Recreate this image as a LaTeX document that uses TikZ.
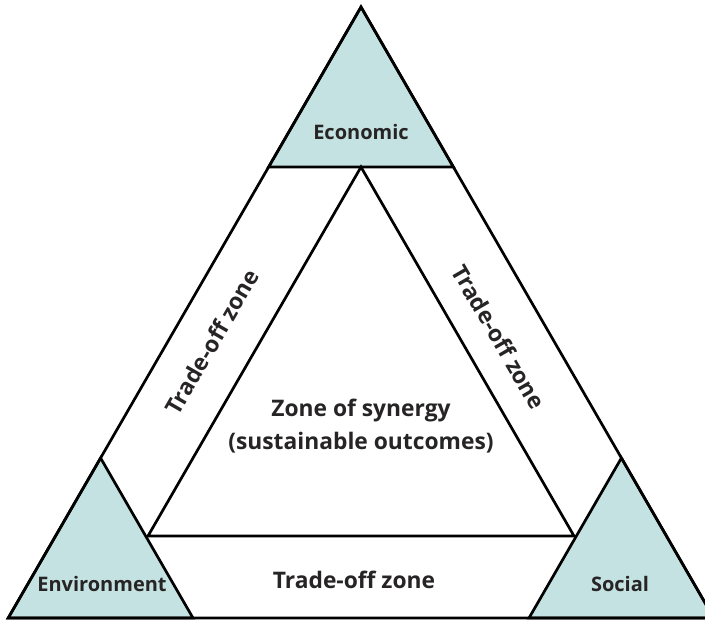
\documentclass[tikz,border=0pt]{standalone}
\usepackage{fontspec}
\setmainfont{Open Sans}
\definecolor{tealfill}{RGB}{196,226,225}
\definecolor{txtgray}{RGB}{38,36,36}
\begin{document}
\begin{tikzpicture}[x=0.5pt, y=-0.5pt, line width=1.35pt, line join=miter,
  corner/.style={fill=tealfill, draw=black},
  lbl/.style={font=\bfseries, text=txtgray, inner sep=0pt, align=center},
  zone/.style={lbl, font=\fontsize{11.4}{16.5}\selectfont\bfseries}]
\useasboundingbox (0,0) rectangle (705,620);
% outer triangle
\coordinate (A) at (361,7);
\coordinate (L) at (8.2,618);
\coordinate (R) at (713.8,618);
% corner triangles
\filldraw[corner] (A)--(268.6,167)--(453.4,167)--cycle;
\filldraw[corner] (100.6,458)--(L)--(193,618)--cycle;
\filldraw[corner] (621.4,458)--(529,618)--(R)--cycle;
\draw (L)--(A)--(R)--cycle;
% inner triangle
\draw (361,167)--(148,536)--(574,536)--cycle;

\node[lbl] (Ec) at (361,132){Economic};
\node[lbl] (En) at (102,584){Environment};
\node[lbl] (So) at (620,584){Social};
\node[zone] (Sy) at (361,426){Zone of synergy\\(sustainable outcomes)};
\node[zone] (T1) at (212,342)[rotate=60]{Trade-off zone};
\node[zone] (T2) at (499,337)[rotate=-60]{Trade-off zone};
\node[zone] (T3) at (354,580){Trade-off zone};
\end{tikzpicture}
\end{document}
